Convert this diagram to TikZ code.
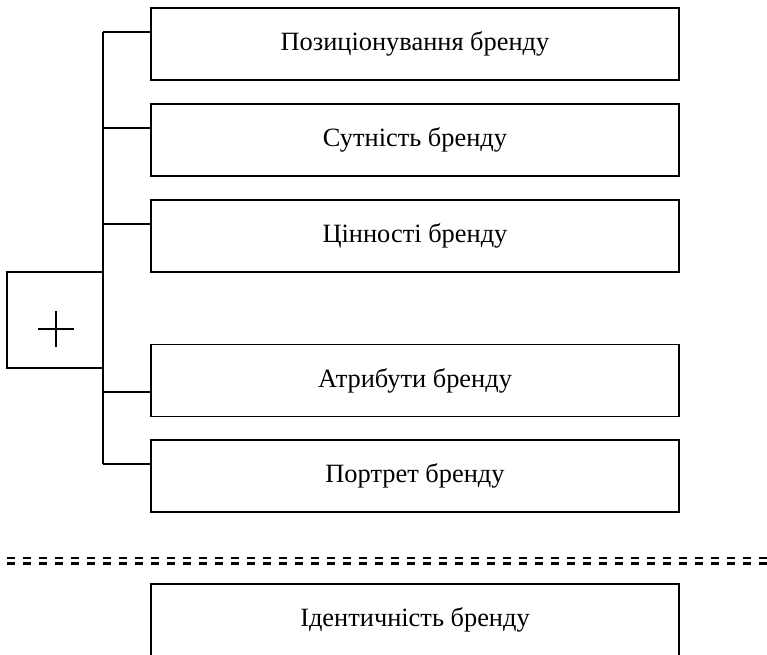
\documentclass[tikz,border=0pt]{standalone}
\usepackage{fontspec}
\setmainfont{Liberation Serif}
\begin{document}
\begin{tikzpicture}[x=0.75pt,y=-0.75pt,
  line width=1.4pt,
  itembox/.style={draw=black,line width=1.4pt,minimum width=528*0.75pt,minimum height=72*0.75pt,inner sep=0pt,font=\fontsize{19.8}{23}\selectfont},
  plusbox/.style={draw=black,line width=1.4pt,minimum width=96*0.75pt,minimum height=96*0.75pt,inner sep=0pt},
  link/.style={draw=black,line width=1.4pt}]
\useasboundingbox (0,0) rectangle (767,654);
\node[itembox] (b1) at (415,44) {Позиціонування бренду};
\node[itembox] (b2) at (415,140) {Сутність бренду};
\node[itembox] (b3) at (415,236) {Цінності бренду};
\node[itembox] (b4) at (415,380.5) {Атрибути бренду};
\node[itembox] (b5) at (415,476) {Портрет бренду};
\node[plusbox] (p) at (55,320) {};
\node[itembox] (b6) at (415,620) {Ідентичність бренду};
\coordinate (t1) at (103,32);
\coordinate (t2) at (103,128);
\coordinate (t3) at (103,224);
\coordinate (t4) at (103,392);
\coordinate (t5) at (103,464);
\draw[link] (t1) -- (t5);
\draw[link] (t1) -- (t1 -| b1.west);
\draw[link] (t2) -- (t2 -| b2.west);
\draw[link] (t3) -- (t3 -| b3.west);
\draw[link] (t4) -- (t4 -| b4.west);
\draw[link] (t5) -- (t5 -| b5.west);
% plus sign
\coordinate (pl) at (38,329);
\coordinate (pr) at (74,329);
\coordinate (pu) at (56,311);
\coordinate (pd) at (56,347);
\draw[line width=1.6pt] (pl) -- (pr) (pu) -- (pd);
% double dashed separator
\coordinate (d1a) at (7,558);
\coordinate (d1b) at (767,558);
\coordinate (d2a) at (7,563.5);
\coordinate (d2b) at (767,563.5);
\draw[line width=1.6pt,dash pattern=on 6pt off 6pt] (d1a) -- (d1b);
\draw[line width=1.6pt,dash pattern=on 6pt off 6pt] (d2a) -- (d2b);
\end{tikzpicture}
\end{document}
